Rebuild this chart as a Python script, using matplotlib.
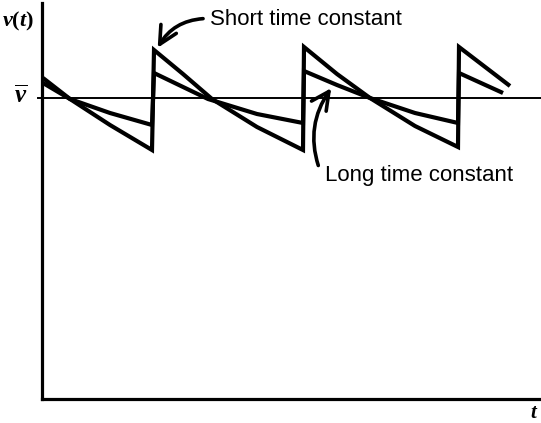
import matplotlib
matplotlib.use("Agg")
import matplotlib.pyplot as plt

plt.rcParams['mathtext.fontset'] = 'custom'
plt.rcParams['mathtext.it'] = 'Liberation Serif:italic:bold'
plt.rcParams['mathtext.rm'] = 'Liberation Serif:bold'

# Data: time t (horizontal, from the v axis) and v (height above t axis)
short_t = [1, 28, 68, 110, 112, 141, 170, 215, 261, 262, 295, 328, 373, 416, 417, 468]
short_v = [321, 300, 274, 249, 349, 325, 300, 272, 249, 352, 325, 301, 273, 252, 352, 313]

long_t = [1, 28, 68, 110, 112, 166, 215, 261, 262, 295, 328, 373, 416, 417, 461]
long_v = [316, 300, 286, 274, 326, 300, 285, 276, 328, 314, 301, 286, 276, 326, 306]

v_mean = 300.5
t_max = 499
v_max = 396

labels = {
    "short": "Short time constant",
    "long": "Long time constant",
    "vt": r"$v(t)$",
    "vbar": r"$\overline{v}$",
    "t": r"$t$",
}

W, H = 541, 423
fig = plt.figure(figsize=(W / 100, H / 100), dpi=100)
ax = fig.add_axes([42 / W, 24 / H, 499 / W, 396 / H])
ax.set_xlim(0, t_max)
ax.set_ylim(0, v_max)
for s in ['top', 'right']:
    ax.spines[s].set_visible(False)
for s in ['left', 'bottom']:
    ax.spines[s].set_linewidth(2.3)
    ax.spines[s].set_color('black')
ax.set_xticks([])
ax.set_yticks([])
ax.patch.set_alpha(0)

ax.plot([-4, t_max], [v_mean, v_mean], color='black', lw=1.4, clip_on=False)
ax.plot(short_t, short_v, color='black', lw=3.0, solid_joinstyle='miter', solid_capstyle='butt')
ax.plot(long_t, long_v, color='black', lw=3.0, solid_joinstyle='miter', solid_capstyle='butt')

def px(x, y):
    return (x - 42, 399 - y)

ax.annotate(labels["short"], xy=px(157, 49), xytext=px(210, 25),
            fontsize=16, family='Liberation Sans', ha='left', va='baseline',
            annotation_clip=False,
            arrowprops=dict(arrowstyle='->,head_length=0.8,head_width=0.4', lw=2.6,
                            color='black', connectionstyle='arc3,rad=0.3',
                            relpos=(0, 0.55), shrinkA=3, shrinkB=1))
ax.annotate(labels["long"], xy=px(332, 87), xytext=px(325, 181),
            fontsize=16, family='Liberation Sans', ha='left', va='baseline',
            annotation_clip=False,
            arrowprops=dict(arrowstyle='->,head_length=0.8,head_width=0.4', lw=2.6,
                            color='black', connectionstyle='arc3,rad=-0.3',
                            relpos=(0, 0.2), shrinkA=8, shrinkB=1))

fig.text(2 / W, 1 - 26 / H, labels["vt"], fontsize=16, ha='left', va='baseline')
fig.text(14 / W, 1 - 103 / H, labels["vbar"], fontsize=18, ha='left', va='baseline')
fig.text(530 / W, 1 - 418 / H, labels["t"], fontsize=15, ha='left', va='baseline')

fig.savefig('out.png', dpi=100)
